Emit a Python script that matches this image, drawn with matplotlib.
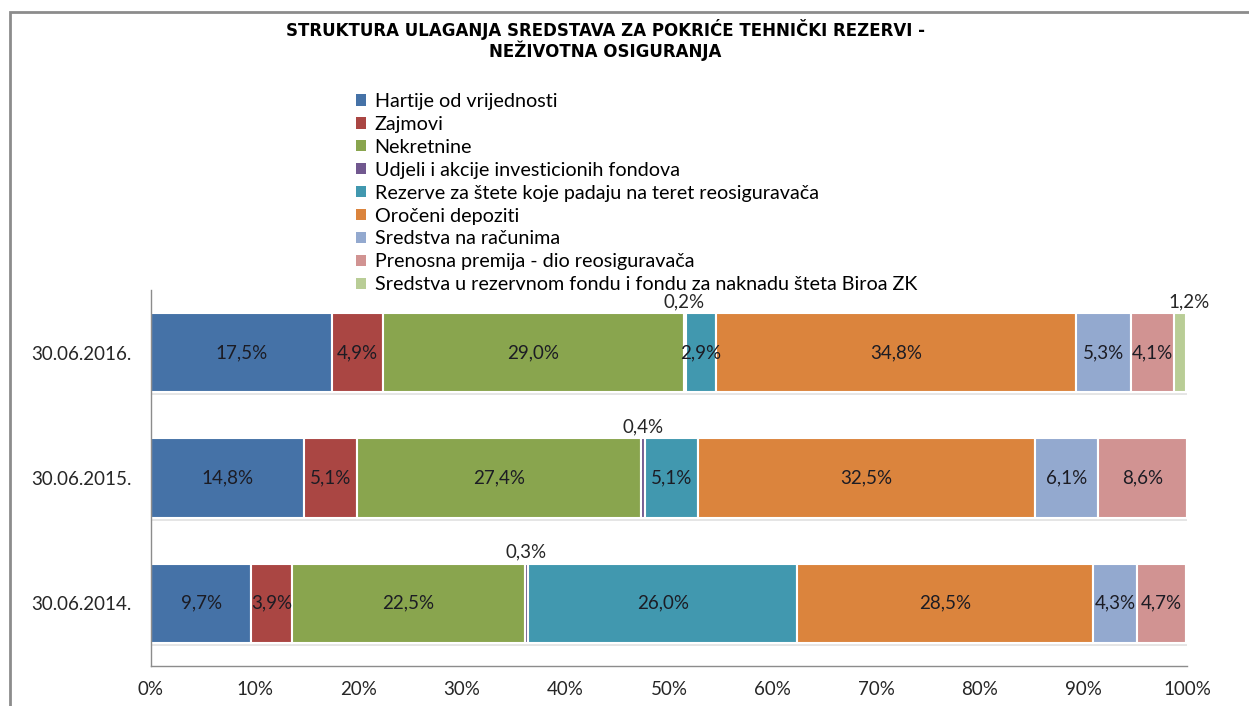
import matplotlib.pyplot as plt
import matplotlib.patheffects as pe
import numpy as np
from matplotlib.patches import Rectangle

plt.rcParams['font.family'] = ['Lato', 'DejaVu Sans']

# Data (shares in %), rows bottom -> top
dates = ['30.06.2014.', '30.06.2015.', '30.06.2016.']
series_names = [
    'Hartije od vrijednosti',
    'Zajmovi',
    'Nekretnine',
    'Udjeli i akcije investicionih fondova',
    'Rezerve za štete koje padaju na teret reosiguravača',
    'Oročeni depoziti',
    'Sredstva na računima',
    'Prenosna premija - dio reosiguravača',
    'Sredstva u rezervnom fondu i fondu za naknadu šteta Biroa ZK',
]
hartije = [9.7, 14.8, 17.5]
zajmovi = [3.9, 5.1, 4.9]
nekretnine = [22.5, 27.4, 29.0]
udjeli = [0.3, 0.4, 0.2]
rezerve = [26.0, 5.1, 2.9]
depoziti = [28.5, 32.5, 34.8]
racuni = [4.3, 6.1, 5.3]
premija = [4.7, 8.6, 4.1]
biro = [0.0, 0.0, 1.2]
colors = ['#4572A7', '#AA4643', '#89A54E', '#71588F', '#4198AF',
          '#DB843D', '#93A9CF', '#D19392', '#B9CD96']

values = np.array([hartije, zajmovi, nekretnine, udjeli, rezerve,
                   depoziti, racuni, premija, biro])

fig = plt.figure(figsize=(12.49, 7.06), dpi=100)
fig.patches.append(Rectangle((10 / 1249, -0.01), 1.1, 1 - 12 / 706 + 0.01,
                             transform=fig.transFigure, fill=False,
                             edgecolor='#8c8c8c', linewidth=2, zorder=0))

ax = fig.add_axes([151 / 1249, 40 / 706, 1036 / 1249, 376 / 706])
y = np.arange(len(dates))
left = np.zeros(len(dates))
shadow = [pe.SimplePatchShadow(offset=(0.8, -2), shadow_rgbFace='#999999', alpha=0.25),
          pe.Normal()]
for i, (name, vals) in enumerate(zip(series_names, values)):
    bars = ax.barh(y, vals, left=left, height=0.635, color=colors[i],
                   edgecolor='white', linewidth=1.5)
    for b in bars:
        b.set_path_effects(shadow)
    for j, v in enumerate(vals):
        if v <= 0:
            continue
        cx = left[j] + v / 2
        txt = f'{v:.1f}%'.replace('.', ',')
        if v < 1.5:
            dx = 0.9 if v > 1 else 0
            ax.text(cx + dx, y[j] + 0.34, txt, ha='center', va='bottom',
                    fontsize=13.5, color='#262626')
        else:
            ax.text(cx, y[j], txt, ha='center', va='center',
                    fontsize=13.5, color='#1c1c24')
    left += vals

ax.set_xlim(0, 100)
ax.set_ylim(-0.5, 2.5)
ax.set_xticks(np.arange(0, 101, 10))
ax.set_xticklabels([f'{t}%' for t in range(0, 101, 10)], fontsize=13.5)
ax.set_yticks(y)
ax.set_yticklabels(dates, fontsize=13.5)
ax.tick_params(length=0, colors='#262626')
ax.tick_params(axis='x', pad=11)
ax.tick_params(axis='y', pad=14)
for s in ['top', 'right']:
    ax.spines[s].set_visible(False)
for s in ['left', 'bottom']:
    ax.spines[s].set_color('#8c8c8c')
    ax.spines[s].set_linewidth(1)

title_font = ['Liberation Sans Narrow', 'DejaVu Sans']
fig.text(605 / 1249, 1 - 29 / 706,
         'STRUKTURA ULAGANJA SREDSTAVA ZA POKRIĆE TEHNIČKI REZERVI -',
         ha='center', va='center', fontsize=12, fontweight='bold',
         family=title_font)
fig.text(605 / 1249, 1 - 51 / 706, 'NEŽIVOTNA OSIGURANJA',
         ha='center', va='center', fontsize=12, fontweight='bold',
         family=title_font)

handles = [Rectangle((0, 0), 1, 1, facecolor=c, edgecolor='none') for c in colors]
fig.legend(handles, series_names, loc='upper left',
           bbox_to_anchor=(356 / 1249, 1 - 93 / 706),
           frameon=False, fontsize=14.2, handlelength=0.5, handleheight=0.5,
           handletextpad=0.45, labelspacing=0.3, borderpad=0, borderaxespad=0)

fig.savefig('out.png', dpi=100)
